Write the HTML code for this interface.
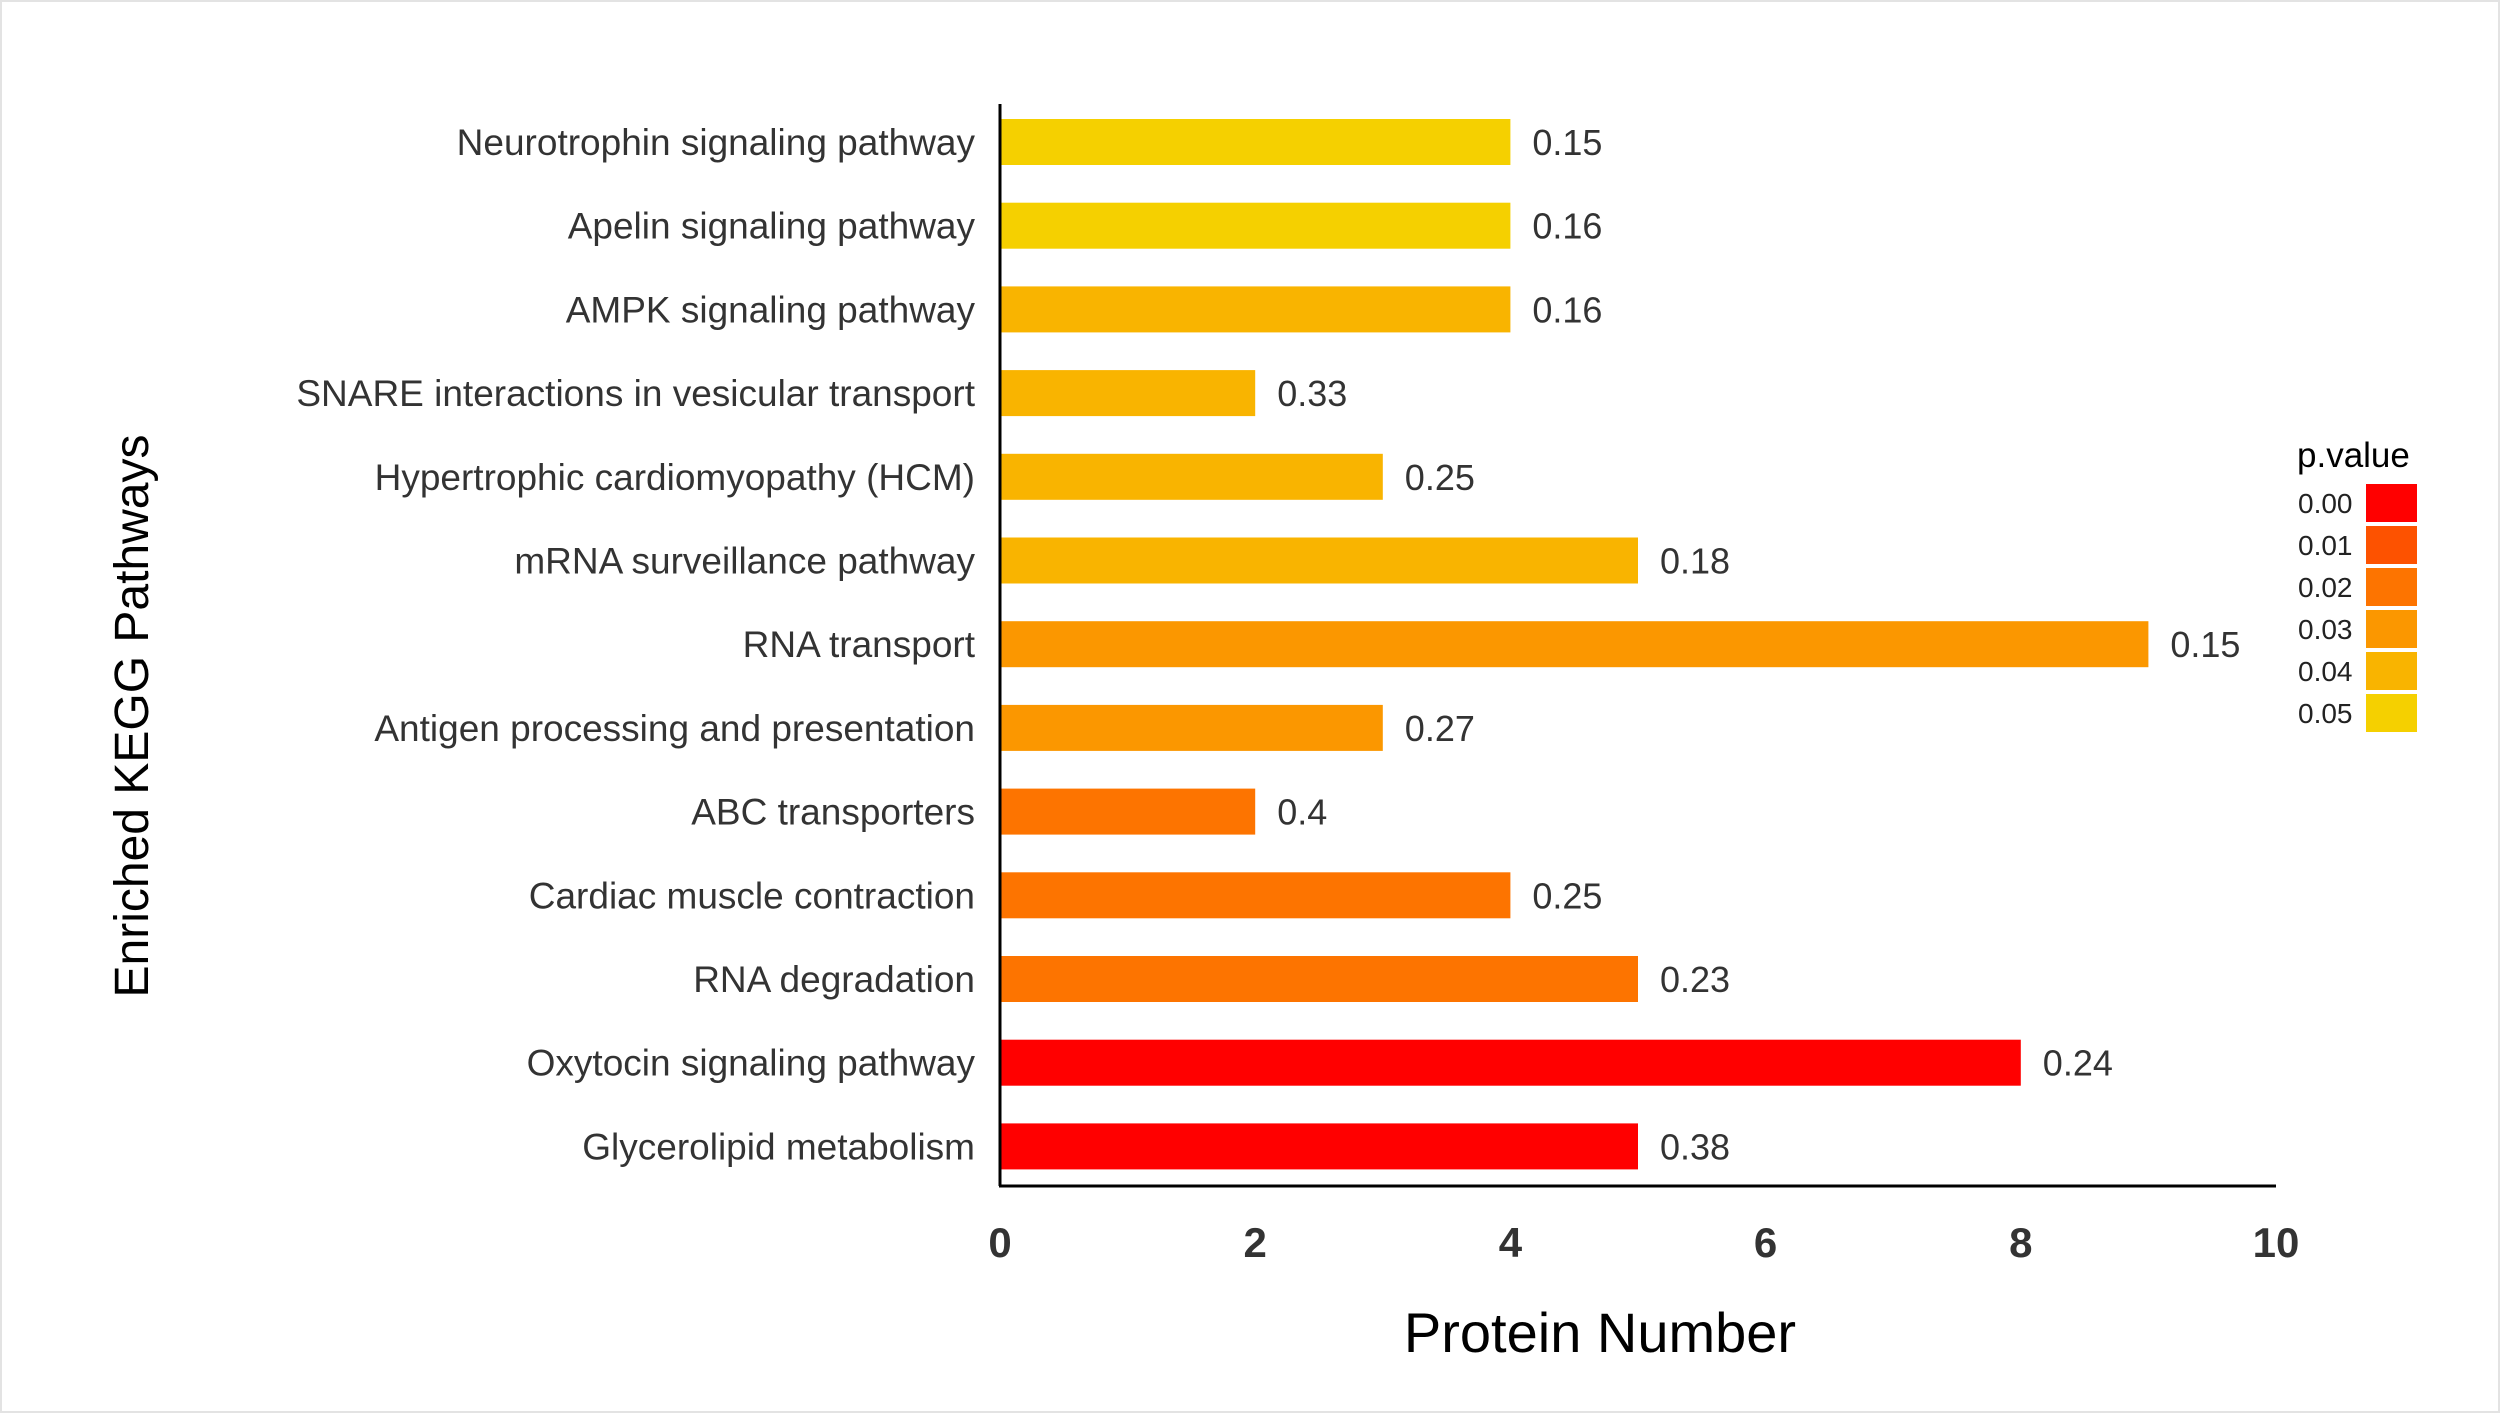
<!DOCTYPE html>
<html><head><meta charset="utf-8"><style>
html,body{margin:0;padding:0;background:#fff;}
svg{display:block;font-family:"Liberation Sans",Arial,sans-serif;}
</style></head><body>
<svg id="chart" width="2500" height="1413" viewBox="0 0 2500 1413">
<rect x="1" y="1" width="2498" height="1411" fill="#fff" stroke="#e3e3e3" stroke-width="2"/>
<g id="plot"></g>
</svg>
<script>
const categories=["Neurotrophin signaling pathway","Apelin signaling pathway","AMPK signaling pathway","SNARE interactions in vesicular transport","Hypertrophic cardiomyopathy (HCM)","mRNA surveillance pathway","RNA transport","Antigen processing and presentation","ABC transporters","Cardiac muscle contraction","RNA degradation","Oxytocin signaling pathway","Glycerolipid metabolism"];
const counts=[4,4,4,2,3,5,9,3,2,4,5,8,5];
const ratios=["0.15","0.16","0.16","0.33","0.25","0.18","0.15","0.27","0.4","0.25","0.23","0.24","0.38"];
const pvalues=[0.05,0.05,0.04,0.04,0.04,0.04,0.03,0.03,0.02,0.02,0.02,0.0,0.0];
const xTicks=[0,2,4,6,8,10];
const legendValues=[0.00,0.01,0.02,0.03,0.04,0.05];
const legendColors=["#ff0000","#fd5200","#fd7400","#fb9700","#f9b400","#f5d000"];

const NS="http://www.w3.org/2000/svg";
const g=document.getElementById('plot');
const X0=1000,X1=2276,XMAX=10,YTOP=104,YBOT=1186,Y_FIRST=142,Y_STEP=83.7,BH=46;
function xs(v){return X0+(X1-X0)*v/XMAX;}
function ys(i){return Y_FIRST+i*Y_STEP;}
function col(p){const i=Math.max(0,Math.min(5,Math.round(p*100)));return legendColors[i];}
function el(t,a,txt){const e=document.createElementNS(NS,t);for(const k in a)e.setAttribute(k,a[k]);if(txt!=null)e.textContent=txt;g.appendChild(e);return e;}

categories.forEach((c,i)=>{
  const cy=ys(i);
  const b=el('rect',{x:X0,y:cy-BH/2,width:xs(counts[i])-X0,height:BH,fill:col(pvalues[i])});
  
  
  const l=el('text',{x:975,y:cy+13,'text-anchor':'end','font-size':37,fill:'#333'},c);
  
  
  const v=el('text',{x:xs(counts[i])+22,y:cy+13,'font-size':36,fill:'#333'},ratios[i]);
  
  
});
const ya=el('line',{x1:X0,y1:YTOP,x2:X0,y2:YBOT,stroke:'#000','stroke-width':3});


const xa=el('line',{x1:X0-1,y1:YBOT,x2:X1,y2:YBOT,stroke:'#000','stroke-width':3});


xTicks.forEach(t=>{
  const e=el('text',{x:xs(t),y:1257,'text-anchor':'middle','font-size':42,'font-weight':'bold',fill:'#333'},String(t));
  
  
});
const xt=el('text',{x:1600,y:1352,'text-anchor':'middle','font-size':56,fill:'#000'},'Protein Number');


const yt=el('text',{x:0,y:0,'text-anchor':'middle','font-size':48,fill:'#000',transform:'translate(148,716) rotate(-90)'},'Enriched KEGG Pathways');


const lt=el('text',{x:2297,y:467,'font-size':35,fill:'#000'},'p.value');


legendValues.forEach((v,i)=>{
  const y=484+i*42;
  const s=el('rect',{x:2366,y:y,width:51,height:38,fill:legendColors[i]});
  
  
  const t=el('text',{x:2298,y:y+29,'font-size':28,fill:'#222'},v.toFixed(2));
  
  
});
</script>
</body></html>
